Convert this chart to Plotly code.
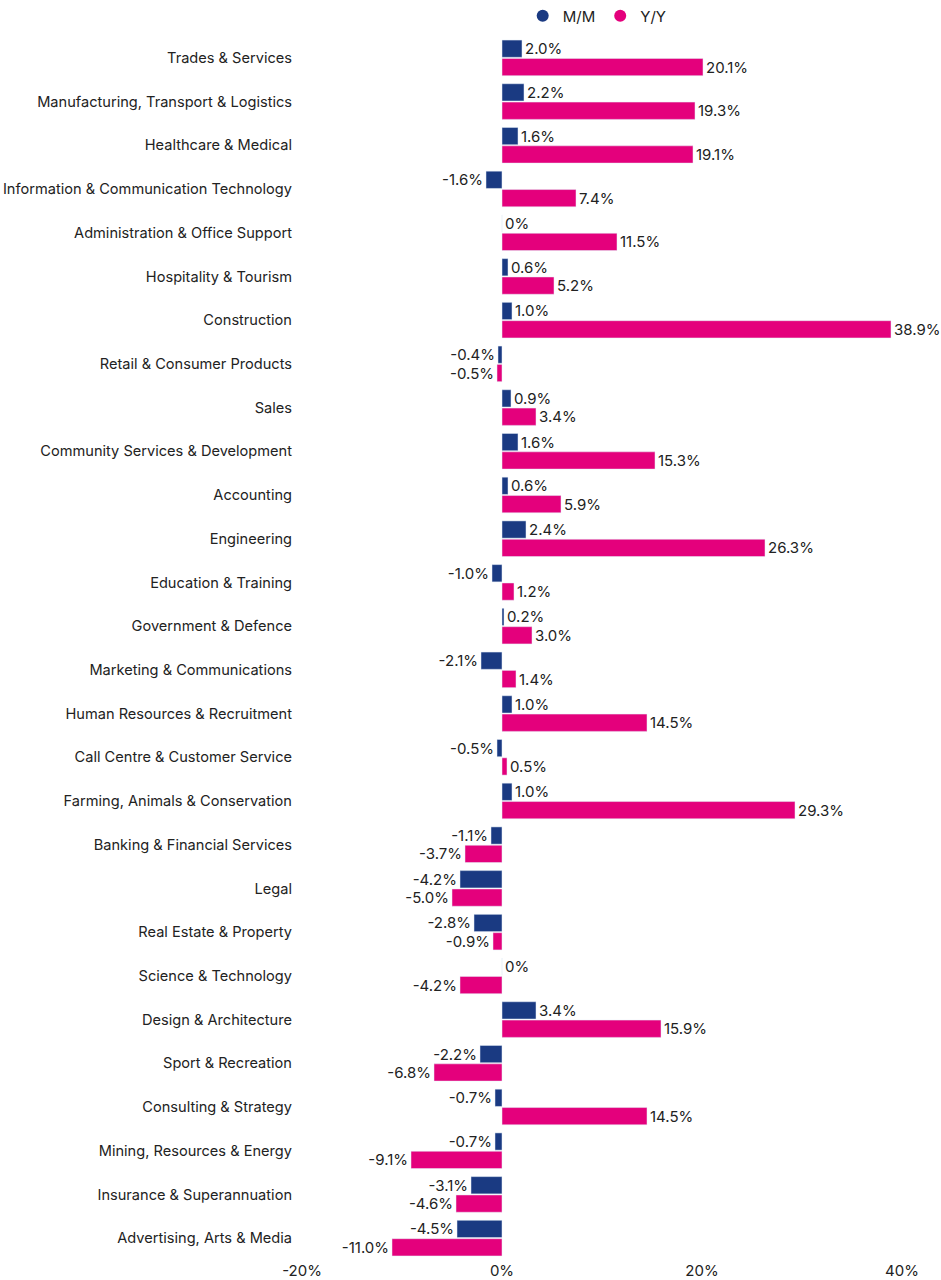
import plotly.graph_objects as go

categories = [
    "Trades & Services",
    "Manufacturing, Transport & Logistics",
    "Healthcare & Medical",
    "Information & Communication Technology",
    "Administration & Office Support",
    "Hospitality & Tourism",
    "Construction",
    "Retail & Consumer Products",
    "Sales",
    "Community Services & Development",
    "Accounting",
    "Engineering",
    "Education & Training",
    "Government & Defence",
    "Marketing & Communications",
    "Human Resources & Recruitment",
    "Call Centre & Customer Service",
    "Farming, Animals & Conservation",
    "Banking & Financial Services",
    "Legal",
    "Real Estate & Property",
    "Science & Technology",
    "Design & Architecture",
    "Sport & Recreation",
    "Consulting & Strategy",
    "Mining, Resources & Energy",
    "Insurance & Superannuation",
    "Advertising, Arts & Media",
]

mm_values = [2.0, 2.2, 1.6, -1.6, 0.0, 0.6, 1.0, -0.4, 0.9, 1.6, 0.6, 2.4, -1.0, 0.2,
             -2.1, 1.0, -0.5, 1.0, -1.1, -4.2, -2.8, 0.0, 3.4, -2.2, -0.7, -0.7, -3.1, -4.5]
yy_values = [20.1, 19.3, 19.1, 7.4, 11.5, 5.2, 38.9, -0.5, 3.4, 15.3, 5.9, 26.3, 1.2, 3.0,
             1.4, 14.5, 0.5, 29.3, -3.7, -5.0, -0.9, -4.2, 15.9, -6.8, 14.5, -9.1, -4.6, -11.0]

tick_vals = [-20, 0, 20, 40]
tick_text = ["-20%", "0%", "20%", "40%"]

NAVY = "#1a3a82"
PINK = "#e4007c"
TXT = "#222222"
FONT = "Inter"


def fmt(v):
    return "0%" if v == 0 else f"{v:.1f}%"


fig = go.Figure()
fig.add_trace(go.Bar(
    y=categories, x=mm_values, orientation="h", name="M/M",
    marker=dict(color=NAVY), text=[fmt(v) for v in mm_values],
    textposition="outside", cliponaxis=False, constraintext="none",
    textfont=dict(size=15, color=TXT, family=FONT), showlegend=False,
))
fig.add_trace(go.Bar(
    y=categories, x=yy_values, orientation="h", name="Y/Y",
    marker=dict(color=PINK), text=[fmt(v) for v in yy_values],
    textposition="outside", cliponaxis=False, constraintext="none",
    textfont=dict(size=15, color=TXT, family=FONT), showlegend=False,
))
# legend entries with circle markers
fig.add_trace(go.Scatter(x=[None], y=[None], mode="markers", name="M/M",
                         marker=dict(color=NAVY, size=15, symbol="circle")))
fig.add_trace(go.Scatter(x=[None], y=[None], mode="markers", name="Y/Y",
                         marker=dict(color=PINK, size=15, symbol="circle")))

fig.update_layout(
    width=941, height=1280,
    margin=dict(l=302, r=39, t=36, b=20, autoexpand=False),
    paper_bgcolor="white", plot_bgcolor="white",
    barmode="group", bargap=0.16, bargroupgap=0.06,
    font=dict(family=FONT, size=15, color=TXT),
    legend=dict(orientation="h", x=0.492, xanchor="center", y=1.0163, yanchor="middle",
                font=dict(size=15, color=TXT), itemsizing="constant",
                bgcolor="rgba(0,0,0,0)"),
)
fig.update_xaxes(range=[-20, 40], tickvals=tick_vals, ticktext=tick_text,
                 showgrid=False, zeroline=False, showline=False, ticks="",
                 automargin=False,
                 tickfont=dict(size=15, color=TXT, family=FONT))
fig.update_yaxes(autorange="reversed", showgrid=False, zeroline=False, showline=False,
                 ticks="", ticklabelstandoff=9, automargin=False,
                 tickfont=dict(size=14.6, color=TXT, family=FONT))

fig.write_html(
    "out.html",
    config={"displayModeBar": False},
    post_script="document.body.style.margin='0';"
                "document.documentElement.style.overflow='hidden';",
)
